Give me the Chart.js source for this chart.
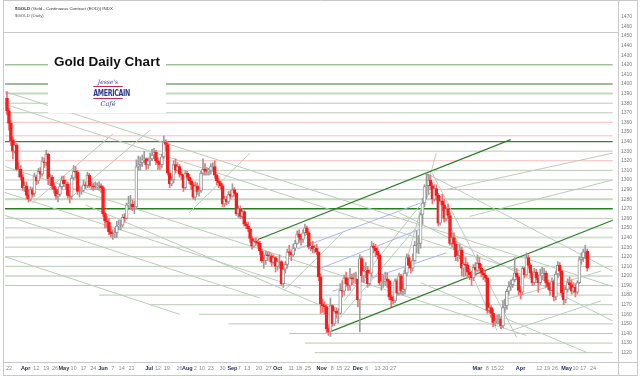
<!DOCTYPE html>
<html><head><meta charset="utf-8">
<script src="https://cdn.jsdelivr.net/npm/chart.js@4.4.0/dist/chart.umd.min.js"></script>
<style>
html,body{margin:0;padding:0;background:#fff;}
#wrap{position:relative;width:640px;height:379px;overflow:hidden;background:#fff;}
#c{position:absolute;left:0;top:0;}
.hdr{position:absolute;left:15px;font-family:"Liberation Sans",Arial,sans-serif;color:#333;white-space:nowrap;line-height:1;}
#h1{top:7px;font-size:4.4px;}
#h2{top:14px;font-size:4.4px;color:#555;}
#tbox{position:absolute;left:48px;top:50px;width:118px;height:63px;background:#fff;}
#title{position:absolute;left:0;top:5px;width:118px;text-align:center;font:bold 13.5px "Liberation Sans",Arial,sans-serif;color:#111;line-height:1;}
#logo{position:absolute;left:42px;top:28px;width:36px;text-align:center;line-height:1;}
#logo .j{font:italic 6px "DejaVu Serif",serif;color:#3b3f86;}
#logo .am{font:bold 8.5px "DejaVu Sans Condensed","DejaVu Sans",sans-serif;color:#2b3990;border-top:1px solid #c0284a;border-bottom:1px solid #c0284a;letter-spacing:-0.4px;transform:scaleX(0.82);transform-origin:center;margin:1px 0;padding:0.5px 0;}
#logo .cf{font:italic 6.5px "DejaVu Serif",serif;color:#3b3f86;}
</style></head><body>
<div id="wrap">
<canvas id="c" width="640" height="379"></canvas>
<div class="hdr" id="h1"><b>$GOLD</b> (Gold - Continuous Contract (EOD)) INDX</div>
<div class="hdr" id="h2">$GOLD (Daily)</div>
<div id="tbox"><div id="title">Gold Daily Chart</div>
<div id="logo"><div class="j">Jesse's</div><div class="am">AMERICAIN</div><div class="cf">Café</div></div></div>
</div>
<script>
// ---- daily OHLC, Mar 2014 .. May 2015 ----
const opens = [
1385,1372,1359,1342,1330,1336,1311,1311,1303,1292,1294,
1284,1280,1290,1286,1303,1299,1309,1306,1319,1318,1327,1301,1303,1294,1290,1283,1285,1293,1300,1296,1296,
1284,1283,1302,1309,1308,1288,1288,1289,1295,1294,1305,1294,1294,1293,1293,1294,1294,1292,1265,1257,1256,
1246,1244,1244,1245,1252,1253,1253,1261,1260,1274,1275,1275,1272,1272,1314,1316,1318,1321,1322,1316,1320,
1322,1326,1329,1320,1318,1316,1324,1339,1337,1307,1296,1300,1316,1310,1314,1306,1305,1292,1307,1303,1299,1295,
1282,1294,1288,1289,1307,1311,1309,1309,1310,1314,1314,1305,1299,1297,1294,1275,1280,1277,1285,1283,1290,
1286,1265,1270,1262,1267,1254,1252,1249,1239,1231,1236,1235,1234,1226,1216,1216,1222,1221,1221,1214,1219,
1210,1215,1215,1192,1207,1212,1225,1224,1222,1229,1234,1244,1240,1238,1245,1250,1245,1230,1231,1228,1229,1225,1199,
1171,1169,1168,1145,1142,1169,1150,1163,1161,1161,1185,1184,1198,1192,1190,1198,1197,1197,1197,
1175,1218,1200,1205,1206,1192,1203,1231,1229,1226,1222,1193,1194,1194,1197,1195,1178,1175,1174,1195,1182,1200,
1184,1186,1203,1219,1211,1208,1216,1232,1232,1234,1264,1276,1293,1294,1300,1294,1280,1291,1284,1255,
1278,1274,1260,1270,1263,1234,1240,1233,1220,1221,1227,1208,1212,1211,1204,1201,1198,1209,1206,
1213,1208,1203,1201,1198,1164,1167,1161,1151,1153,1153,1155,1148,1167,1169,1184,1189,1191,1196,1203,1199,1185,
1183,1208,1201,1219,1211,1203,1193,1204,1198,1193,1200,1203,1203,1193,1189,1185,1194,1178,1202,1211,1205,
1182,1175,1186,1193,1191,1184,1188,1183,1193,1217,1219,1225,1226
];
const highs = [
1392,1375,1362,1345,1340,1338,1318,1315,1306,1298,1298,
1290,1293,1292,1307,1305,1312,1313,1324,1323,1331,1328,1306,1305,1297,1292,1290,1296,1304,1304,1300,1298,
1289,1305,1315,1314,1310,1294,1293,1300,1298,1308,1307,1298,1297,1298,1297,1298,1296,1294,1266,1262,1260,
1252,1248,1250,1257,1258,1258,1264,1265,1276,1283,1284,1279,1278,1321,1325,1324,1326,1330,1323,1323,1328,
1332,1333,1331,1323,1320,1327,1346,1342,1340,1309,1303,1320,1322,1318,1316,1308,1306,1310,1309,1306,1302,1297,
1298,1297,1293,1309,1322,1317,1313,1312,1317,1318,1320,1306,1302,1299,1296,1283,1283,1288,1289,1296,1292,
1287,1273,1273,1270,1268,1256,1256,1250,1241,1239,1240,1237,1236,1228,1220,1226,1225,1225,1223,1222,1220,
1218,1222,1216,1210,1215,1228,1232,1227,1233,1237,1247,1248,1243,1248,1254,1252,1246,1235,1236,1232,1233,1225,1202,
1176,1173,1170,1149,1177,1170,1167,1167,1166,1192,1195,1201,1204,1198,1208,1202,1203,1204,1196,
1222,1220,1210,1214,1210,1206,1236,1234,1233,1230,1224,1202,1201,1204,1203,1196,1180,1179,1197,1197,1203,1202,
1194,1206,1223,1222,1215,1223,1236,1247,1242,1266,1281,1295,1306,1306,1305,1297,1295,1295,1286,1283,
1285,1280,1272,1275,1266,1245,1245,1236,1226,1233,1230,1214,1219,1214,1207,1205,1212,1214,1222,
1219,1212,1207,1205,1200,1172,1169,1165,1156,1159,1160,1157,1174,1176,1186,1194,1196,1198,1219,1208,1201,1189,
1210,1209,1224,1222,1213,1205,1208,1207,1201,1207,1209,1208,1205,1196,1193,1198,1196,1205,1215,1214,1206,
1190,1189,1197,1199,1196,1193,1192,1195,1220,1224,1228,1232,1228
];
const lows = [
1368,1352,1336,1322,1328,1310,1303,1300,1289,1288,1280,
1277,1278,1282,1283,1295,1296,1302,1304,1313,1315,1295,1294,1291,1286,1280,1277,1283,1290,1293,1290,1281,
1276,1280,1300,1302,1285,1282,1285,1288,1291,1292,1292,1290,1289,1290,1290,1289,1287,1262,1250,1250,1243,
1240,1238,1240,1240,1248,1248,1251,1256,1259,1271,1270,1268,1265,1270,1310,1310,1314,1318,1311,1312,1315,
1320,1322,1316,1311,1311,1313,1322,1330,1305,1292,1294,1297,1307,1309,1303,1300,1288,1290,1300,1296,1290,1280,
1279,1285,1283,1287,1305,1305,1305,1305,1306,1310,1302,1295,1292,1290,1272,1272,1274,1275,1280,1282,1283,
1263,1261,1260,1260,1252,1249,1246,1235,1228,1230,1232,1230,1222,1214,1208,1212,1216,1215,1210,1212,1204,
1206,1208,1190,1188,1203,1208,1220,1216,1220,1226,1233,1235,1232,1235,1242,1243,1228,1226,1224,1224,1222,1195,1161,
1162,1160,1141,1138,1137,1148,1148,1156,1151,1160,1178,1180,1190,1185,1185,1191,1193,1193,1168,
1142,1194,1193,1198,1188,1190,1199,1224,1220,1218,1190,1185,1188,1190,1188,1175,1168,1171,1172,1180,1180,1181,
1180,1181,1200,1208,1203,1205,1215,1224,1223,1229,1254,1272,1280,1285,1290,1275,1278,1279,1252,1253,
1268,1256,1257,1260,1232,1230,1227,1216,1215,1218,1200,1199,1200,1198,1196,1190,1195,1200,1204,
1205,1199,1196,1194,1161,1162,1157,1147,1148,1150,1150,1145,1146,1162,1165,1180,1185,1188,1194,1196,1180,1176,
1180,1198,1200,1208,1198,1190,1190,1196,1183,1191,1196,1195,1188,1186,1180,1185,1174,1175,1198,1200,1178,
1170,1172,1183,1186,1181,1182,1178,1181,1192,1212,1215,1218,1205
];
const closes = [
1372,1359,1341,1330,1336,1311,1311,1303,1292,1294,1284,
1280,1290,1285,1304,1299,1309,1306,1320,1318,1327,1301,1303,1294,1290,1283,1285,1293,1300,1296,1296,1284,
1283,1302,1309,1308,1288,1288,1289,1295,1294,1305,1294,1294,1293,1293,1294,1294,1292,1265,1257,1256,1246,
1244,1244,1245,1252,1253,1253,1261,1260,1274,1275,1275,1272,1272,1314,1316,1318,1321,1322,1316,1320,1322,
1326,1329,1320,1318,1316,1324,1339,1337,1307,1296,1300,1316,1310,1314,1306,1305,1292,1307,1303,1299,1295,1282,
1294,1288,1289,1307,1311,1309,1309,1310,1314,1314,1305,1299,1297,1294,1275,1280,1277,1285,1283,1290,1286,
1265,1270,1262,1267,1254,1252,1249,1239,1231,1236,1235,1234,1226,1216,1216,1222,1221,1221,1214,1219,1210,
1215,1215,1192,1207,1212,1225,1224,1222,1229,1234,1244,1240,1238,1245,1250,1245,1230,1231,1228,1229,1225,1199,1171,
1169,1168,1145,1142,1169,1150,1163,1161,1161,1185,1184,1198,1192,1190,1198,1197,1197,1197,1175,
1218,1200,1205,1206,1192,1203,1231,1229,1226,1222,1193,1194,1194,1197,1195,1178,1175,1174,1195,1182,1200,1184,
1186,1203,1219,1211,1208,1216,1232,1232,1234,1264,1276,1293,1294,1300,1294,1280,1291,1284,1255,1278,
1274,1260,1270,1263,1234,1240,1233,1220,1221,1227,1208,1212,1211,1204,1201,1198,1209,1206,1213,
1208,1203,1201,1198,1164,1167,1161,1151,1153,1153,1155,1148,1167,1169,1184,1189,1191,1196,1203,1199,1185,1183,
1208,1201,1219,1211,1203,1193,1204,1198,1193,1200,1203,1203,1193,1189,1185,1194,1178,1202,1211,1205,1182,
1175,1186,1193,1191,1184,1188,1183,1193,1217,1219,1225,1226,1208
];

// ---- x axis labels (trading-day index, text) ----
const xTickIndex = [1,9.5,15,20,24.5,29,34,39,44,49,54,58.5,63.5,72.5,77,81.5,88,92,96,99.5,104,110,115,118.5,122.5,128.5,133.5,138,145,149,153.5,160.5,166,169.5,173.5,179,183.5,189,193,197,240,245,248.5,252,262,271.5,275.5,279.5,285.5,290,294,299];
const xTickText  = ["22","Apr","12","19","26","May","10","17","24","Jun","7","14","21","Jul","12","19","26","Aug","2","10","23","30","Sep","7","13","20","27","Oct","11","18","25","Nov","8","15","22","Dec","6","13","20","27","Mar","8","15","22","Apr","12","19","26","May","10","17","24"];
const monthNames = ["Jan","Feb","Mar","Apr","May","Jun","Jul","Aug","Sep","Oct","Nov","Dec"];

// ---- price axis ----
const priceMin = 1110.3, priceMax = 1481.3;
const priceTickFirst = 1120, priceTickLast = 1470, priceTickStep = 10;

// ---- horizontal support/resistance levels ----
const levelPrices = [1420,1400,1390,1380,1370,1360,1346,1340,1330,1320,1310,1300,1290,1280,1270,1260,1250,1240,1230,1220,1210,1200,1190,1180,1170,1160,1150,1140,1130,1120];
const levelFrom   = [-1,-1,-1,-1,-1,-1,-1,-1,-1,-1,-1,-1,-1,-1,-1,-1,-1,-1,-1,-1,-1,-1,-1,47,73,98,113,144,152,157];
const levelTo     = [309,309,309,309,309,309,309,309,309,309,309,309,309,309,309,309,309,309,309,309,309,309,309,309,309,309,309,309,309,309];
const levelKind   = ["green","dk","lt","gray","gray","pink","pink","dk","gray","pink","gray","gray","gray","lt","dk2","gray","gray","ltg","gray","gray","gray","ltg","gray","gray","gray","gray","gray","gray","gray","gray"];

// ---- trend lines: [startIndex, startPrice, endIndex, endPrice] ----
const greenTrends = [[165,1142,309,1258],[128,1238,257,1342]];
const blueTrends  = [[148,1228,211,1276],[160,1208,211,1249],[166,1184,224,1224]];
const grayTrends  = [
 [-1,1392,309,1189],[-1,1379,262,1205],[-1,1314,265,1138],[-1,1287,150,1187],[-1,1263,129,1177],[-1,1220,88,1160],
 [40,1274,165,1165],[214,1307,309,1205],[200,1266,309,1153],[211,1193,296,1120],[214,1307,250,1143],[217,1307,260,1136],
 [13,1276,54,1348],[31,1279,73,1352],[93,1266,124,1328],[141,1184,171,1245],[163,1140,211,1256],[172,1174,216,1287],
 [200,1187,219,1328],[224,1290,309,1328],[236,1262,309,1300],[257,1143,303,1174],[252,1174,303,1205]
];

// ---- styles ----
const KIND = {
  gray:{c:'#b9c8b5',w:1}, pink:{c:'#f6bcbc',w:1}, green:{c:'#72a566',w:1},
  dk:{c:'#3c7f35',w:1.2}, dk2:{c:'#2a7a26',w:1.6}, lt:{c:'#c2d9bb',w:2}, ltg:{c:'#d6e0d4',w:2}
};
const UP_FILL='#ffffff', UP_LINE='#959595', DN='#ff1a1a', DN_WICK='#ff6a6a';

const isUp = closes.map((c,i)=>c>=opens[i]);
const bodies = closes.map((c,i)=>({x:i,y:[opens[i],c]}));
const wicks  = closes.map((c,i)=>({x:i,y:[lows[i],highs[i]]}));

function seg(t){return [{x:t[0],y:t[1]},{x:t[2],y:t[3]}];}
const lineDs = (data,color,width,order)=>({type:'line',data,borderColor:color,borderWidth:width,pointRadius:0,fill:false,tension:0,order});

const datasets = [
  {type:'bar',data:bodies,grouped:false,barThickness:3,borderSkipped:false,borderWidth:1,
   backgroundColor:isUp.map(u=>u?UP_FILL:DN),borderColor:isUp.map(u=>u?UP_LINE:DN),order:0},
  {type:'bar',data:wicks,grouped:false,barThickness:1,borderWidth:0,
   backgroundColor:isUp.map(u=>u?'#9c9c9c':DN_WICK),order:1}
];
greenTrends.forEach(t=>datasets.push(lineDs(seg(t),'#2f7d2a',1.2,2)));
blueTrends.forEach(t=>datasets.push(lineDs(seg(t),'#aeb2f2',1,3)));
grayTrends.forEach(t=>datasets.push(lineDs(seg(t),'#bccabb',1,4)));
levelPrices.forEach((p,k)=>{const s=KIND[levelKind[k]];datasets.push(lineDs([{x:levelFrom[k],y:p},{x:levelTo[k],y:p}],s.c,s.w,5));});

const frame = {
  id:'frame',
  afterDraw(chart){
    const g=chart.ctx; g.save(); g.strokeStyle='#c9c9c9'; g.lineWidth=1;
    const L=3.5,R=637.5,A=chart.chartArea.right+0.5,B=chart.chartArea.bottom+0.5;
    g.beginPath();
    g.moveTo(L,0.5);g.lineTo(R,0.5);
    g.moveTo(L,0);g.lineTo(L,376);
    g.moveTo(R,0);g.lineTo(R,376);
    g.moveTo(A,0);g.lineTo(A,376);
    g.moveTo(L,32.5);g.lineTo(A,32.5);
    g.moveTo(L,B);g.lineTo(R,B);
    g.moveTo(L,375.5);g.lineTo(R,375.5);
    g.stroke(); g.restore();
  }
};

new Chart(document.getElementById('c'),{
  type:'bar',
  data:{datasets},
  options:{
    responsive:false, animation:false, devicePixelRatio:1,
    layout:{padding:{left:3,top:0,right:0,bottom:0}},
    plugins:{legend:{display:false},tooltip:{enabled:false},title:{display:false}},
    scales:{
      x:{type:'linear',min:-2.04,max:311.7,offset:false,
         grid:{display:false,drawTicks:false},border:{display:false},
         afterBuildTicks:(ax)=>{ax.ticks=xTickIndex.map(v=>({value:v}));},
         afterFit:(ax)=>{ax.height=17;},
         ticks:{autoSkip:false,maxRotation:0,minRotation:0,padding:3,
           callback:(v,i)=>xTickText[i],
           color:(ctx)=>monthNames.includes(xTickText[ctx.index])?'#1f2a5a':'#8a8a8a',
           font:(ctx)=>({family:'"Liberation Sans",Arial,sans-serif',size:5.5,weight:monthNames.includes(xTickText[ctx.index])?'bold':'normal'})}
      },
      y:{type:'linear',position:'right',min:priceMin,max:priceMax,
         grid:{display:false,drawTicks:false},border:{display:false},
         afterFit:(ax)=>{ax.width=22;},
         ticks:{stepSize:priceTickStep,padding:3,color:'#7a7a7a',
           font:{family:'"Liberation Sans",Arial,sans-serif',size:5},
           callback:(v)=>{const r=Math.round(v);return (Math.abs(v-r)<0.01&&r%priceTickStep===0&&r>=priceTickFirst&&r<=priceTickLast)?String(r):null;}}
      }
    }
  },
  plugins:[frame]
});
</script>
</body></html>
